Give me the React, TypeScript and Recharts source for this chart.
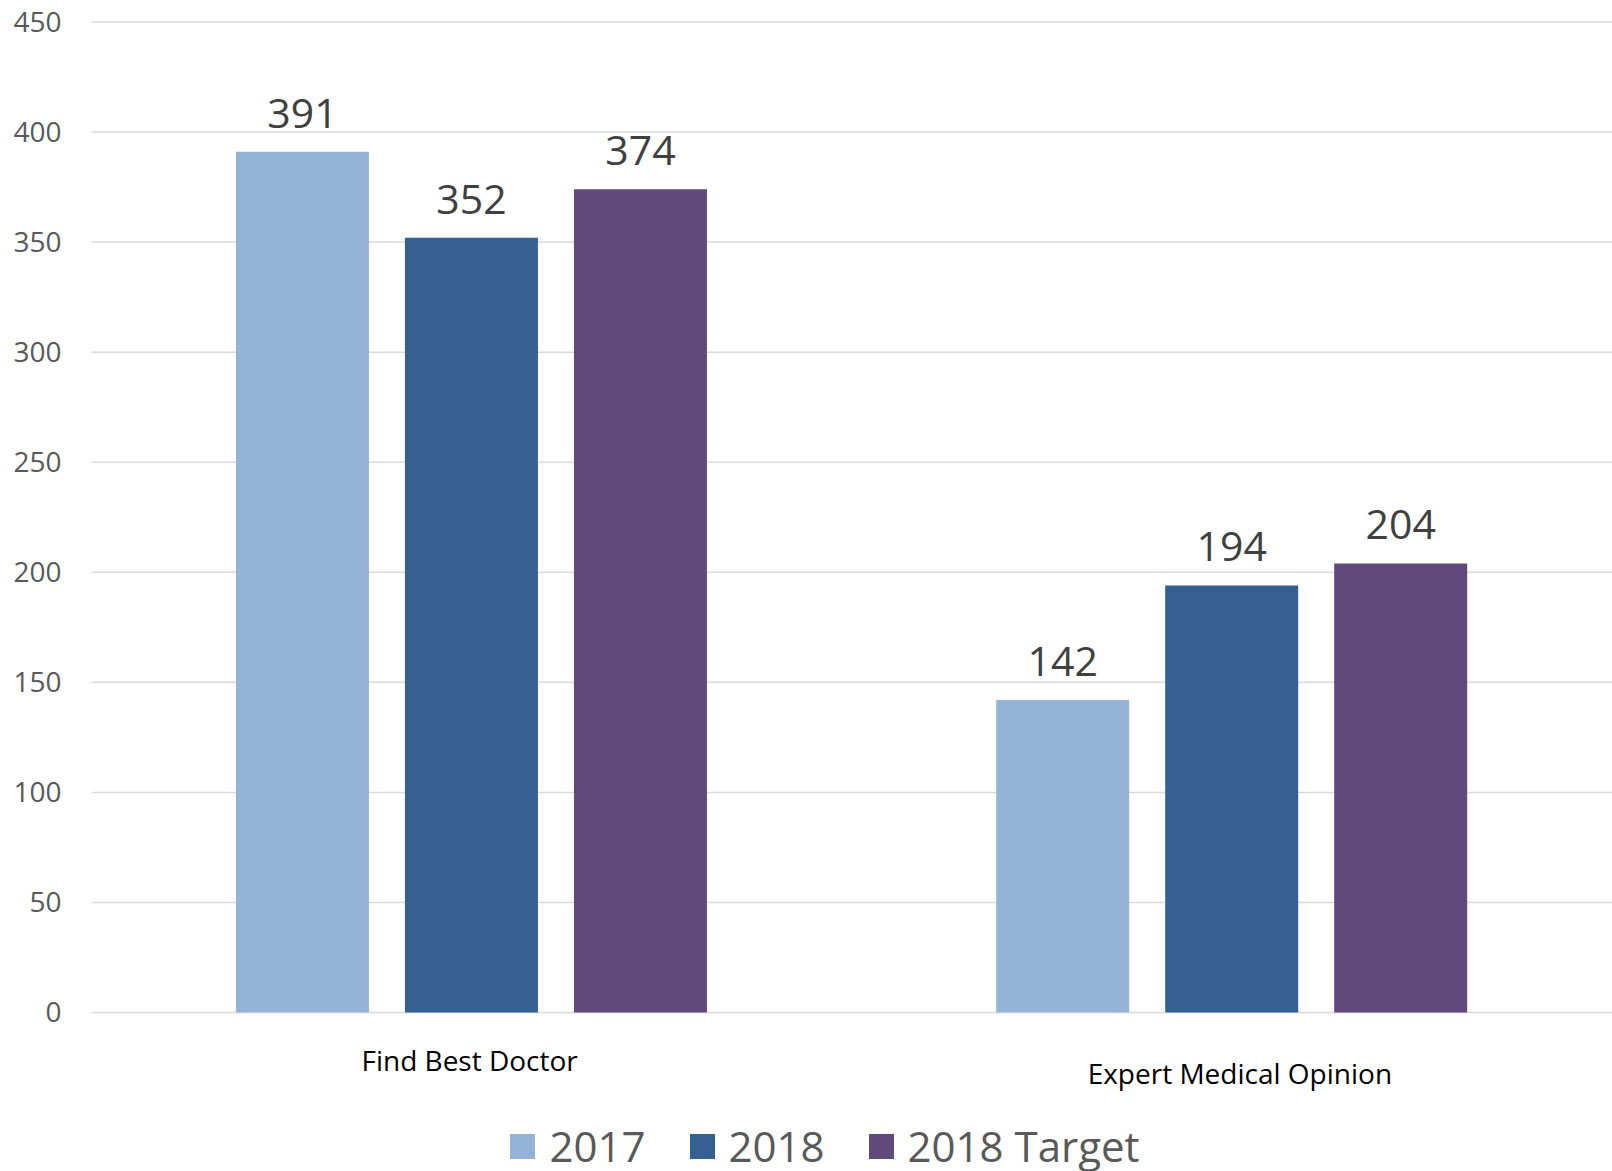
import { Bar, BarChart, CartesianGrid, LabelList, Legend, XAxis, YAxis } from "recharts";

const categories = ["Find Best Doctor", "Expert Medical Opinion"];
const values2017 = [391, 142];
const values2018 = [352, 194];
const target2018 = [374, 204];
const yTicks = [0, 50, 100, 150, 200, 250, 300, 350, 400, 450];

const series = [
  { key: "y2017", name: "2017", color: "#95B3D7" },
  { key: "y2018", name: "2018", color: "#376092" },
  { key: "target", name: "2018 Target", color: "#604A7B" },
];

const data = categories.map((name, i) => ({
  name,
  y2017: values2017[i],
  y2018: values2018[i],
  target: target2018[i],
}));

const FONT = "'Open Sans', 'Noto Sans', sans-serif";

function CategoryTick({ x, y, payload, index }: any) {
  // the second label sits a little lower in the original
  const dy = index === 0 ? 47 : 60;
  const dx = index === 0 ? -2 : 8;
  return (
    <text
      x={x + dx}
      y={y + dy}
      textAnchor="middle"
      dominantBaseline="central"
      fill="#000000"
      fontSize={28}
      fontFamily={FONT}
    >
      {payload.value}
    </text>
  );
}

function LegendContent() {
  return (
    <div
      style={{
        display: "flex",
        justifyContent: "center",
        alignItems: "center",
        height: 46,
        marginLeft: 82,
        fontFamily: FONT,
        fontSize: 42,
        lineHeight: "42px",
        color: "#595959",
      }}
    >
      {series.map((s) => (
        <div key={s.key} style={{ display: "flex", alignItems: "center", marginRight: 44 }}>
          <span style={{ width: 25, height: 25, background: s.color, marginRight: 14 }} />
          <span>{s.name}</span>
        </div>
      ))}
    </div>
  );
}

export default function App() {
  return (
    <div style={{ position: "absolute", left: 0, top: 0, width: 1612, height: 1171, background: "#fff" }}>
      <BarChart
        width={1612}
        height={1171}
        data={data}
        margin={{ top: 22, right: 0, left: 0, bottom: 0 }}
        barCategoryGap="19%"
        barGap={36}
      >
        <CartesianGrid vertical={false} stroke="#D9D9D9" strokeWidth={1.5} />
        <XAxis
          dataKey="name"
          height={112.5}
          axisLine={false}
          tickLine={false}
          tickSize={0}
          tickMargin={0}
          interval={0}
          tick={<CategoryTick />}
        />
        <YAxis
          width={91.5}
          domain={[0, 450]}
          ticks={yTicks}
          axisLine={false}
          tickLine={false}
          tickSize={0}
          tickMargin={30}
          tick={{ fill: "#595959", fontSize: 28, fontFamily: FONT }}
        />
        <Legend
          verticalAlign="bottom"
          height={46}
          wrapperStyle={{ bottom: 2 }}
          content={<LegendContent />}
        />
        {series.map((s) => (
          <Bar key={s.key} dataKey={s.key} name={s.name} fill={s.color} isAnimationActive={false}>
            <LabelList
              dataKey={s.key}
              position="top"
              offset={24}
              fill="#404040"
              fontSize={41}
              fontFamily={FONT}
            />
          </Bar>
        ))}
      </BarChart>
    </div>
  );
}
